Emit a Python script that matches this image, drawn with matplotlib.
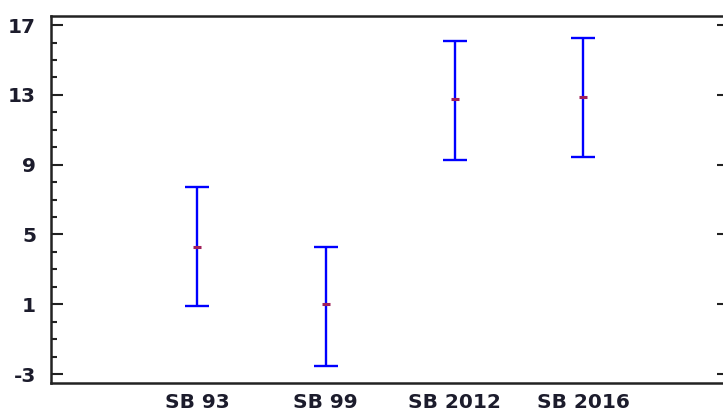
import matplotlib
matplotlib.use("Agg")
import matplotlib.pyplot as plt
from matplotlib.ticker import MultipleLocator
import numpy as np

plt.rcParams["axes.unicode_minus"] = False

# group means with lower/upper interval limits
groups = ["SB 93", "SB 99", "SB 2012", "SB 2016"]
means = [4.30, 1.00, 12.76, 12.89]
lower = [0.90, -2.52, 9.26, 9.42]
upper = [7.70, 4.30, 16.10, 16.25]

W, H = 723, 416
fig = plt.figure(figsize=(W / 100, H / 100), dpi=100)
# axes box in pixels: left spine 51, right spine just past the edge, top 16, bottom 383
ax = fig.add_axes([51.3 / W, (H - 383.3) / H, (729 - 51.3) / W, (383.3 - 16) / H])

x = np.arange(1, len(groups) + 1)
m = np.array(means)
yerr = np.vstack([m - np.array(lower), np.array(upper) - m])

ax.errorbar(x, m, yerr=yerr, fmt="none", ecolor="#0000ff", elinewidth=1.7,
            capsize=8.8, capthick=1.7, zorder=2)
ax.plot(x, m, linestyle="none", marker="_", markersize=5.5,
        markeredgewidth=2.2, color="#a0205a", zorder=3)

ax.set_xlim(-0.13, 5.13)
ax.set_ylim(-3.53, 17.52)
ax.set_xticks(x)
ax.set_xticklabels(groups)
ax.set_yticks(np.arange(-3, 18, 4))
ax.yaxis.set_minor_locator(MultipleLocator(1))

font = dict(family="DejaVu Sans", weight="bold", size=14.5, color="#1c1c2c")
for lab in ax.get_xticklabels() + ax.get_yticklabels():
    lab.set(**font)

ax.tick_params(axis="x", length=0, pad=7)
ax.tick_params(axis="y", which="major", direction="in", length=8.6, width=1.5,
               left=True, right=True, pad=11, color="#222222")
ax.tick_params(axis="y", which="minor", direction="in", length=4.3, width=1.5,
               left=True, right=True, color="#222222")

for sp in ax.spines.values():
    sp.set_linewidth(1.8)
    sp.set_color("#222222")

fig.savefig("out.png", dpi=100, facecolor="white")
